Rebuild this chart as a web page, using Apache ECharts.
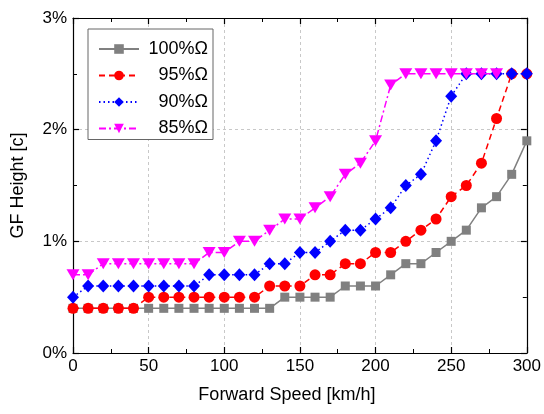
<!DOCTYPE html>
<html>
<head>
<meta charset="utf-8">
<script src="https://cdn.jsdelivr.net/npm/echarts@6/dist/echarts.min.js"></script>
<style>
html,body{margin:0;padding:0;background:#fff;}
#chart{width:544px;height:414px;}
</style>
</head>
<body>
<div id="chart"></div>
<script>
var speed = [0,10,20,30,40,50,60,70,80,90,100,110,120,130,140,150,160,170,180,190,200,210,220,230,240,250,260,270,280,290,300];
var omega100 = [0.4,0.4,0.4,0.4,0.4,0.4,0.4,0.4,0.4,0.4,0.4,0.4,0.4,0.4,0.5,0.5,0.5,0.5,0.6,0.6,0.6,0.7,0.8,0.8,0.9,1.0,1.1,1.3,1.4,1.6,1.9];
var omega95  = [0.4,0.4,0.4,0.4,0.4,0.5,0.5,0.5,0.5,0.5,0.5,0.5,0.5,0.6,0.6,0.6,0.7,0.7,0.8,0.8,0.9,0.9,1.0,1.1,1.2,1.4,1.5,1.7,2.1,2.5,2.5];
var omega90  = [0.5,0.6,0.6,0.6,0.6,0.6,0.6,0.6,0.6,0.7,0.7,0.7,0.7,0.8,0.8,0.9,0.9,1.0,1.1,1.1,1.2,1.3,1.5,1.6,1.9,2.3,2.5,2.5,2.5,2.5,2.5];
var omega85  = [0.7,0.7,0.8,0.8,0.8,0.8,0.8,0.8,0.8,0.9,0.9,1.0,1.0,1.1,1.2,1.2,1.3,1.4,1.6,1.7,1.9,2.4,2.5,2.5,2.5,2.5,2.5,2.5,2.5,null,null];
var seriesNames = ['100%Ω','95%Ω','90%Ω','85%Ω'];
var xTicks = {min:0, max:300, interval:50};
var yTicks = {min:0, max:3, interval:1};

function pairs(ys){ var out=[]; for(var i=0;i<speed.length;i++){ if(ys[i]!==null) out.push([speed[i], ys[i]]); } return out; }

var FONT = '"Liberation Sans", Arial, sans-serif';
var chart = echarts.init(document.getElementById('chart'), null, {renderer:'canvas'});

function frameAxis(extra){
  return Object.assign({
    axisLine:{show:true, onZero:false, lineStyle:{color:'#000', width:1.2}},
    axisTick:{show:true, inside:true, length:6, lineStyle:{color:'#000', width:1.2}},
    minorTick:{show:true, splitNumber:2, length:4, lineStyle:{color:'#000', width:1}},
    axisLabel:{show:false},
    splitLine:{show:false}
  }, extra);
}

var option = {
  animation:false,
  backgroundColor:'#fff',
  grid:{left:73, right:17, top:18, bottom:61, containLabel:false},
  legend:{
    left:88, top:29,
    orient:'vertical',
    backgroundColor:'#fff',
    borderColor:'#666', borderWidth:1,
    padding:[10,5,1,10],
    itemWidth:40, itemHeight:12, itemGap:6.5,
    data:seriesNames,
    formatter:function(n){ return '{t|'+n+'}'; },
    textStyle:{fontFamily:FONT, fontSize:18, color:'#000', lineHeight:20,
      rich:{t:{width:64, align:'right', fontFamily:FONT, fontSize:18, color:'#000', lineHeight:20}}}
  },
  xAxis:[{
    type:'value', min:xTicks.min, max:xTicks.max, interval:xTicks.interval,
    position:'bottom',
    name:'Forward Speed [km/h]', nameLocation:'middle', nameGap:33,
    nameTextStyle:{fontFamily:FONT, fontSize:18, color:'#000', padding:[0,26,0,0]},
    axisLine:{show:true, onZero:false, lineStyle:{color:'#000', width:1.2}},
    axisTick:{show:true, inside:true, length:6, lineStyle:{color:'#000', width:1.2}},
    minorTick:{show:true, splitNumber:2, length:4, lineStyle:{color:'#000', width:1}},
    axisLabel:{fontFamily:FONT, fontSize:17, color:'#000', margin:5},
    splitLine:{show:true, lineStyle:{color:'#c8c8c8', type:[3,3], width:1}}
  }, frameAxis({type:'value', min:xTicks.min, max:xTicks.max, interval:xTicks.interval, position:'top'})],
  yAxis:[{
    type:'value', min:yTicks.min, max:yTicks.max, interval:yTicks.interval,
    position:'left',
    name:'GF Height [c]', nameLocation:'middle', nameGap:46,
    nameTextStyle:{fontFamily:FONT, fontSize:18, color:'#000'},
    axisLine:{show:true, onZero:false, lineStyle:{color:'#000', width:1.2}},
    axisTick:{show:true, inside:true, length:6, lineStyle:{color:'#000', width:1.2}},
    minorTick:{show:true, splitNumber:2, length:4, lineStyle:{color:'#000', width:1}},
    axisLabel:{fontFamily:FONT, fontSize:17, color:'#000', margin:6, formatter:'{value}%'},
    splitLine:{show:true, lineStyle:{color:'#c8c8c8', type:[3,3], width:1}}
  }, frameAxis({type:'value', min:yTicks.min, max:yTicks.max, interval:yTicks.interval, position:'right'})],
  series:[
    {name:seriesNames[0], type:'line', data:pairs(omega100), symbol:'rect', symbolSize:9,
     itemStyle:{color:'#808080'}, lineStyle:{color:'#808080', width:1.5, type:'solid'}, z:2},
    {name:seriesNames[1], type:'line', data:pairs(omega95), symbol:'circle', symbolSize:11,
     itemStyle:{color:'#ff0000'}, lineStyle:{color:'#ff0000', width:1.5, type:[6,4]}, z:3},
    {name:seriesNames[2], type:'line', data:pairs(omega90), symbol:'diamond', symbolSize:[12,13],
     itemStyle:{color:'#0000ff'}, lineStyle:{color:'#0000ff', width:1.5, type:[1.5,3]}, z:4},
    {name:seriesNames[3], type:'line', data:pairs(omega85), symbol:'triangle', symbolRotate:180, symbolSize:[13,11],
     itemStyle:{color:'#ff00ff'}, lineStyle:{color:'#ff00ff', width:1.5, type:[7,3,2,3]}, z:5}
  ]
};
chart.setOption(option);
</script>
</body>
</html>
